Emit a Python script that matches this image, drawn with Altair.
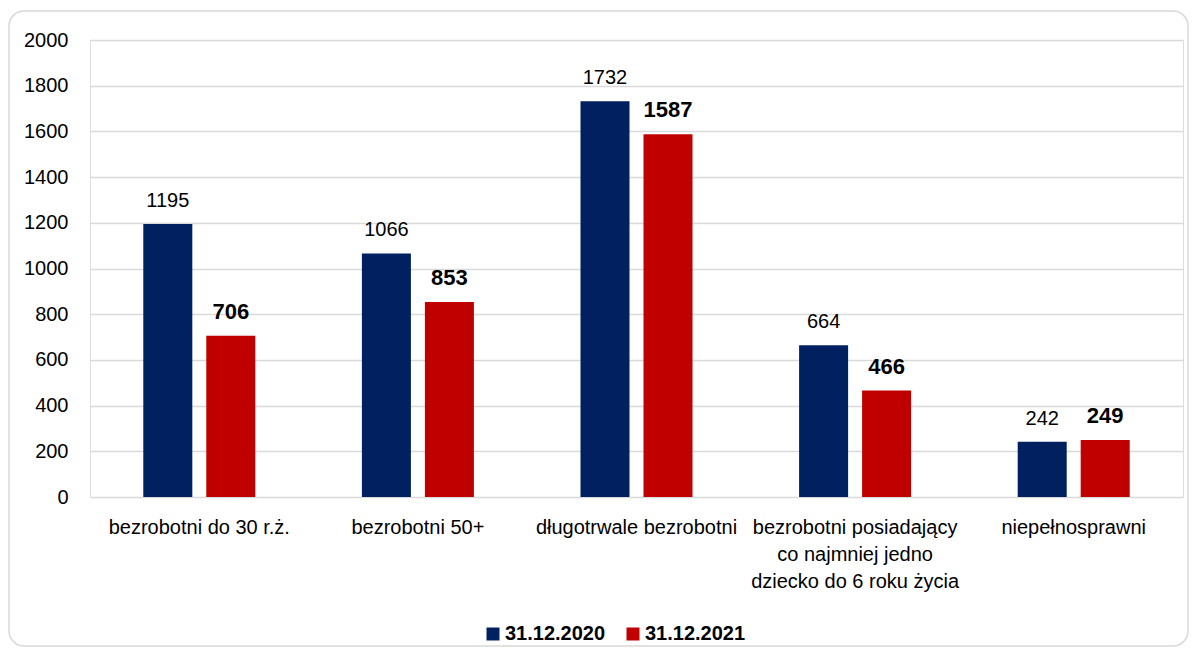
import altair as alt
import pandas as pd

categories = [
    "bezrobotni do 30 r.ż.",
    "bezrobotni 50+",
    "długotrwale bezrobotni",
    "bezrobotni posiadający|co najmniej jedno|dziecko do 6 roku życia",
    "niepełnosprawni",
]
values_2020 = [1195, 1066, 1732, 664, 242]
values_2021 = [706, 853, 1587, 466, 249]
series = ["31.12.2020", "31.12.2021"]
colors = ["#002060", "#C00000"]
y_ticks = [0, 200, 400, 600, 800, 1000, 1200, 1400, 1600, 1800, 2000]

rows = []
for c, a, b in zip(categories, values_2020, values_2021):
    rows.append({"kat": c, "seria": series[0], "wartosc": a})
    rows.append({"kat": c, "seria": series[1], "wartosc": b})
df = pd.DataFrame(rows)

W, H = 1093, 457
FONT = "Liberation Sans"

x_axis = alt.Axis(
    title=None, labelAngle=0, labelExpr="split(datum.value, '|')",
    labelLineHeight=27, labelPadding=20, ticks=False, tickSize=0,
    domain=False, labelFontSize=20, labelLimit=400, grid=False,
    labelColor="#000000", labelFont=FONT,
)
x_enc = alt.X("kat:N", sort=categories,
              scale=alt.Scale(paddingInner=0, paddingOuter=0), axis=x_axis)
xoff_enc = alt.XOffset("seria:N", sort=series,
                       scale=alt.Scale(paddingInner=0.222, paddingOuter=0.846))
y_enc = alt.Y(
    "wartosc:Q",
    scale=alt.Scale(domain=[0, 2000], nice=False),
    axis=alt.Axis(title=None, values=y_ticks, format="d", ticks=False,
                  tickSize=0, domain=False, labelPadding=22,
                  gridColor="#d9d9d9", gridWidth=1.5, labelFontSize=20,
                  labelColor="#000000", labelFont=FONT),
)
color_enc = alt.Color(
    "seria:N", sort=series,
    scale=alt.Scale(domain=series, range=colors),
    legend=alt.Legend(
        title=None, orient="none", direction="horizontal",
        legendX=393, legendY=584, symbolType="square", symbolSize=169,
        symbolStrokeWidth=0, labelFontSize=20, labelFontWeight="bold",
        labelFont=FONT, labelColor="#000000", labelOffset=2,
        columnPadding=17, padding=0, symbolOpacity=1,
    ),
)

border = alt.Chart(pd.DataFrame({"k": [0]})).mark_rect(
    fillOpacity=0, stroke="#d9d9d9", strokeWidth=1.5, cornerRadius=15
).encode(
    x=alt.value(-81), x2=alt.value(1098), y=alt.value(-29), y2=alt.value(606)
)

bars = alt.Chart(df).mark_bar().encode(
    x=x_enc, xOffset=xoff_enc, y=y_enc, color=color_enc
)

t2020 = alt.Chart(df).transform_filter(
    alt.datum.seria == series[0]
).mark_text(
    baseline="alphabetic", dy=-17, fontSize=20, font=FONT, color="#000000"
).encode(
    x=alt.X("kat:N", sort=categories),
    xOffset=alt.XOffset("seria:N", sort=series),
    y="wartosc:Q", text="wartosc:Q",
)

t2021 = alt.Chart(df).transform_filter(
    alt.datum.seria == series[1]
).mark_text(
    baseline="alphabetic", dy=-17, fontSize=22, fontWeight="bold",
    font=FONT, color="#000000"
).encode(
    x=alt.X("kat:N", sort=categories),
    xOffset=alt.XOffset("seria:N", sort=series),
    y="wartosc:Q", text="wartosc:Q",
)

chart = alt.layer(border, bars, t2020, t2021).properties(
    width=W, height=H,
    autosize=alt.AutoSizeParams(type="none"),
    padding={"left": 82, "top": 32, "right": 7, "bottom": 159},
).configure_view(stroke=None).configure(font=FONT)

chart.save("out.html", embed_options={"renderer": "svg", "actions": False})
